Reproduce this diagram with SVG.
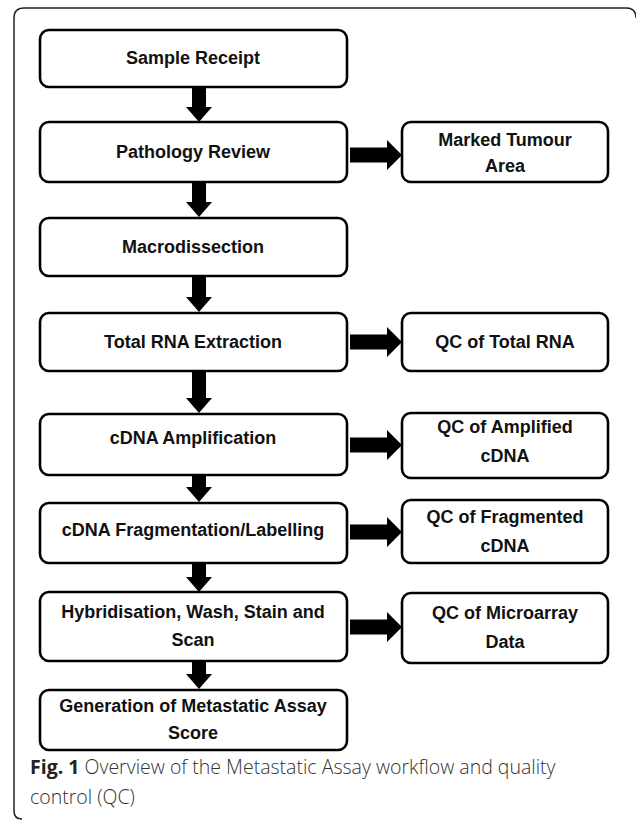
<svg xmlns="http://www.w3.org/2000/svg" xmlns:xlink="http://www.w3.org/1999/xlink" width="636" height="820" viewBox="0 0 636 820">
<defs>
<style>
.box{fill:#fff;stroke:#000;stroke-width:2.6}
.t{font-family:"Liberation Sans",Arial,sans-serif;font-weight:bold;font-size:18px;fill:#111;text-anchor:middle}
.arr{fill:#000}
.frame{fill:none;stroke:#222;stroke-width:1.5}
.cap{font-family:"Open Sans","Liberation Sans",sans-serif;font-size:19.5px;fill:#333;font-weight:300}
</style>
<polygon id="ra" points="0,-7.5 37,-7.5 37,-15 52,0 37,15 37,7.5 0,7.5"/>
</defs>
<rect width="636" height="820" fill="#fff"/>
<path class="frame" d="M22,819 Q14,819 14,811 L14,18 Q14,8 24,8 L626,8 Q636,8 636,18"/>

<g id="connectors" class="arr">
<path d="M192,87 L206,87 L206,107 L212,107 L199,122 L186,107 L192,107 Z"/>
<path d="M192,182 L206,182 L206,202 L212,202 L199,217 L186,202 L192,202 Z"/>
<path d="M192,276 L206,276 L206,297 L212,297 L199,312 L186,297 L192,297 Z"/>
<path d="M192,371 L206,371 L206,398 L212,398 L199,413 L186,398 L192,398 Z"/>
<path d="M192,475 L206,475 L206,487 L212,487 L199,502 L186,487 L192,487 Z"/>
<path d="M192,563 L206,563 L206,577 L212,577 L199,592 L186,577 L192,577 Z"/>
<path d="M192,661 L206,661 L206,674 L212,674 L199,689 L186,674 L192,674 Z"/>
<use xlink:href="#ra" transform="translate(350,155)"/>
<use xlink:href="#ra" transform="translate(350,342)"/>
<use xlink:href="#ra" transform="translate(350,445)"/>
<use xlink:href="#ra" transform="translate(350,532)"/>
<use xlink:href="#ra" transform="translate(350,627)"/>
</g>

<g id="sample-receipt"><rect class="box" x="40" y="30" width="307" height="57" rx="9"/><text class="t" x="193" y="64">Sample Receipt</text></g>
<g id="pathology-review"><rect class="box" x="40" y="122" width="307" height="60" rx="9"/><text class="t" x="193" y="158">Pathology Review</text></g>
<g id="marked-tumour"><rect class="box" x="402" y="122" width="206" height="60" rx="9"/><text class="t" x="505" y="146">Marked Tumour</text><text class="t" x="505" y="172">Area</text></g>
<g id="macrodissection"><rect class="box" x="40" y="218" width="307" height="58" rx="9"/><text class="t" x="193" y="253">Macrodissection</text></g>
<g id="total-rna"><rect class="box" x="40" y="313" width="307" height="58" rx="9"/><text class="t" x="193" y="348">Total RNA Extraction</text></g>
<g id="qc-total-rna"><rect class="box" x="402" y="313" width="206" height="58" rx="9"/><text class="t" x="505" y="348">QC of Total RNA</text></g>
<g id="cdna-amp"><rect class="box" x="40" y="414" width="307" height="61" rx="9"/><text class="t" x="193" y="444">cDNA Amplification</text></g>
<g id="qc-amp"><rect class="box" x="402" y="413" width="206" height="65" rx="9"/><text class="t" x="505" y="433">QC of Amplified</text><text class="t" x="505" y="462">cDNA</text></g>
<g id="cdna-frag"><rect class="box" x="40" y="503" width="307" height="60" rx="9"/><text class="t" x="193" y="536">cDNA Fragmentation/Labelling</text></g>
<g id="qc-frag"><rect class="box" x="402" y="500" width="206" height="63" rx="9"/><text class="t" x="505" y="523">QC of Fragmented</text><text class="t" x="505" y="552">cDNA</text></g>
<g id="hybridisation"><rect class="box" x="40" y="592" width="307" height="69" rx="9"/><text class="t" x="193" y="618">Hybridisation, Wash, Stain and</text><text class="t" x="193" y="646">Scan</text></g>
<g id="qc-microarray"><rect class="box" x="402" y="593" width="206" height="70" rx="9"/><text class="t" x="505" y="619">QC of Microarray</text><text class="t" x="505" y="648">Data</text></g>
<g id="generation"><rect class="box" x="40" y="690" width="307" height="60" rx="9"/><text class="t" x="193" y="712">Generation of Metastatic Assay</text><text class="t" x="193" y="739">Score</text></g>

<g id="caption">
<text class="cap" x="30" y="774"><tspan font-weight="bold" fill="#222">Fig. 1</tspan> Overview of the Metastatic Assay workflow and quality</text>
<text class="cap" x="30" y="804">control (QC)</text>
</g>
</svg>
